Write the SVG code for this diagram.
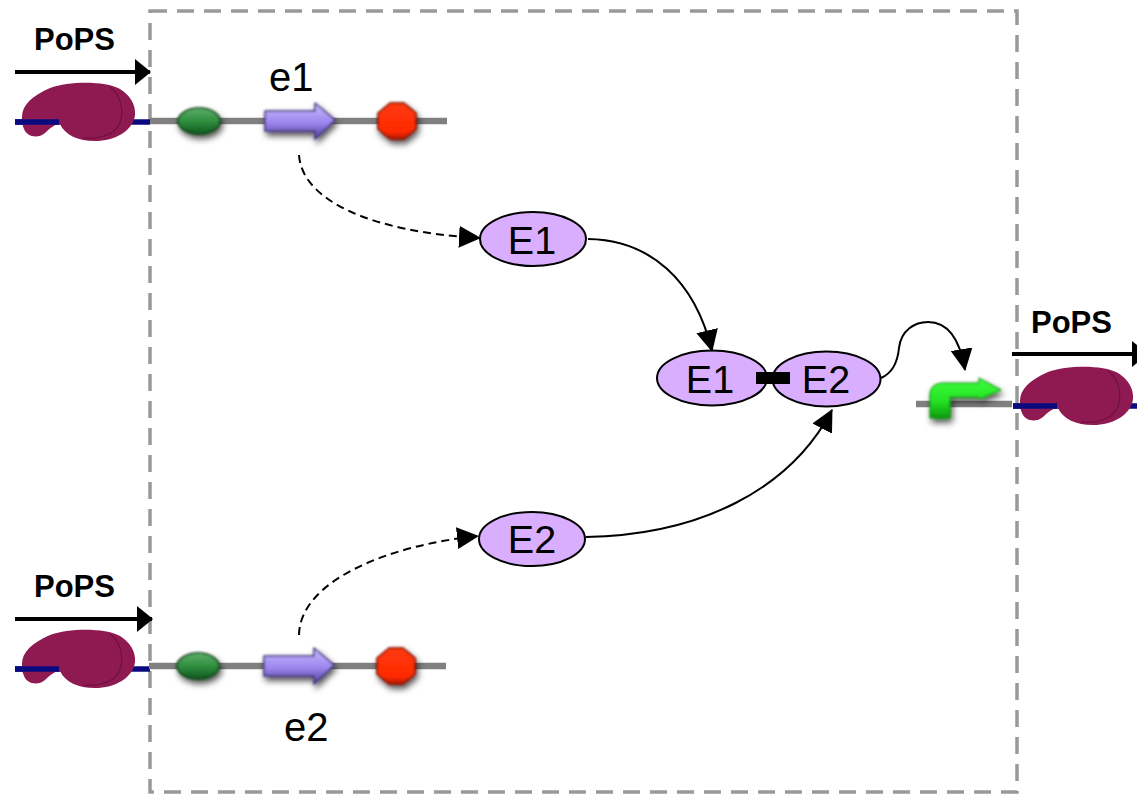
<svg xmlns="http://www.w3.org/2000/svg" xmlns:xlink="http://www.w3.org/1999/xlink" width="1137" height="794" viewBox="0 0 1137 794">
<style>
text{font-family:"Liberation Sans",Arial,sans-serif;fill:#000}
.pops{font-size:31px;font-weight:700}
.lbl{font-size:40px}
.ent{font-size:39.500px;text-anchor:middle}
.prot{fill:#d9aeff;stroke:#000;stroke-width:2}
.dna{stroke:#808080;stroke-width:6.500;fill:none}
.mrna{stroke:#0a0a80;stroke-width:5.500;fill:none}
.flow{stroke:#000;stroke-width:4;fill:none;marker-end:url(#big)}
.c{stroke:#000;stroke-width:2;fill:none;marker-end:url(#tri)}
.d{stroke-dasharray:8 5}
</style>
<defs>
<marker id="tri" markerUnits="userSpaceOnUse" markerWidth="24" markerHeight="24" refX="21" refY="11" orient="auto"><path d="M0,0L22,11L0,22Z" fill="#000"/></marker>
<marker id="big" markerUnits="userSpaceOnUse" markerWidth="18" markerHeight="28" refX="15" refY="13" orient="auto"><path d="M0,0L16,13L0,26Z" fill="#000"/></marker>
<filter id="sh" x="-40%" y="-50%" width="190%" height="220%"><feGaussianBlur in="SourceGraphic" stdDeviation="0.8" result="b"/><feDropShadow in="b" dx="2" dy="4" stdDeviation="3" flood-color="#000" flood-opacity="0.7"/></filter>
<linearGradient id="gG" x1="0" y1="0" x2="0" y2="1"><stop offset="0" stop-color="#5fae6a"/><stop offset=".5" stop-color="#2f8f3f"/><stop offset="1" stop-color="#0f5a1f"/></linearGradient>
<linearGradient id="gP" x1="0" y1="0" x2="0" y2="1"><stop offset="0" stop-color="#c9bcff"/><stop offset=".55" stop-color="#9c86ee"/><stop offset="1" stop-color="#4f3f96"/></linearGradient>
<linearGradient id="gR" x1="0" y1="0" x2="0" y2="1"><stop offset="0" stop-color="#ff3a10"/><stop offset=".8" stop-color="#ff2a00"/><stop offset="1" stop-color="#b01800"/></linearGradient>
<linearGradient id="gN" x1="0" y1="0" x2="0" y2="1"><stop offset="0" stop-color="#3dff3d"/><stop offset=".6" stop-color="#22e022"/><stop offset="1" stop-color="#0c9a0c"/></linearGradient>
<g id="ribo">
<path d="M15,122H150" class="mrna"/>
<path d="M22,117C22,105 32,96 50,88C70,81 105,81 120,89C130,95 136,105 135,115C133,131 115,141 95,141C78,141 65,135 60,124C55,124 50,128 45,133C38,139 27,137 24,129C22,125 22,121 22,117Z" fill="#8f1a52"/>
<path d="M110,87C124,97 126,122 113,132C103,138 92,139 83,138" fill="none" stroke="#6e1040" stroke-width="1.200"/>
<path d="M15,122H59" class="mrna"/>
</g>
<g id="gene">
<path d="M0,0H297" class="dna"/>
<ellipse cx="49" cy="0" rx="21" ry="13" fill="url(#gG)" stroke="#0d3d15" stroke-width="1.500" filter="url(#sh)"/>
<path d="M115,-10H165V-18L185,-1L165,18V10H115Z" fill="url(#gP)" stroke="#3d3378" stroke-width="1.500" stroke-linejoin="round" filter="url(#sh)"/>
<path d="M240,-18H254L266,-8V8L254,18H240L228,8V-8Z" fill="url(#gR)" stroke="#7a1200" stroke-width="1.500" stroke-linejoin="round" filter="url(#sh)"/>
</g>
</defs>
<rect id="boundary" x="150" y="11" width="867" height="781" fill="none" stroke="#999" stroke-width="3.500" stroke-dasharray="17 10"/>
<g id="top-input">
<text class="pops" x="34" y="50">PoPS</text>
<use xlink:href="#ribo"/>
</g>
<g id="gene-e1">
<use xlink:href="#gene" x="150" y="121"/>
<text class="lbl" x="269" y="91">e1</text>
</g>
<g id="bottom-input">
<text class="pops" x="34" y="597">PoPS</text>
<use xlink:href="#ribo" y="547"/>
</g>
<g id="gene-e2">
<use xlink:href="#gene" x="149" y="666"/>
<text class="lbl" x="284" y="741">e2</text>
</g>
<g id="promoter">
<path d="M916,404H1012" class="dna"/>
<path d="M930,395C930,386 936,383 944,383H979V378L1001,390L979,399V397H950V418H930Z" fill="url(#gN)" stroke="#0c8a0c" stroke-width="1" filter="url(#sh)"/>
</g>
<g id="output">
<text class="pops" x="1031" y="333">PoPS</text>
<use xlink:href="#ribo" x="998" y="284"/>
</g>
<g id="node-E1-free"><ellipse class="prot" cx="533" cy="239" rx="53" ry="27"/><text class="ent" x="532" y="254">E1</text></g>
<g id="node-E2-free"><ellipse class="prot" cx="532" cy="539" rx="53" ry="27"/><text class="ent" x="532" y="553">E2</text></g>
<g id="node-E1-complex"><ellipse class="prot" cx="712" cy="378" rx="55" ry="27.500"/><text class="ent" x="710" y="393">E1</text></g>
<g id="node-E2-complex"><ellipse class="prot" cx="826.500" cy="379" rx="54" ry="27.500"/><text class="ent" x="826" y="393">E2</text></g>
<rect id="bond" x="756" y="372" width="34" height="12" fill="#000"/>
<g id="connectors">
<path class="flow" d="M15,72H150"/>
<path class="flow" d="M15,619H152"/>
<path class="flow" d="M1012,354H1147"/>
<path class="c d" d="M299,155C302,200 370,232 480,238"/>
<path class="c" d="M588,239C650,240 695,280 712,351"/>
<path class="c" d="M586,537C700,535 790,490 832,410"/>
<path class="c d" d="M299,635C300,580 390,545 478,536"/>
<path class="c" d="M881,378C895,372 898,358 899,348C901,330 915,322 928,322C948,322 960,340 965,370"/>
</g>
</svg>
